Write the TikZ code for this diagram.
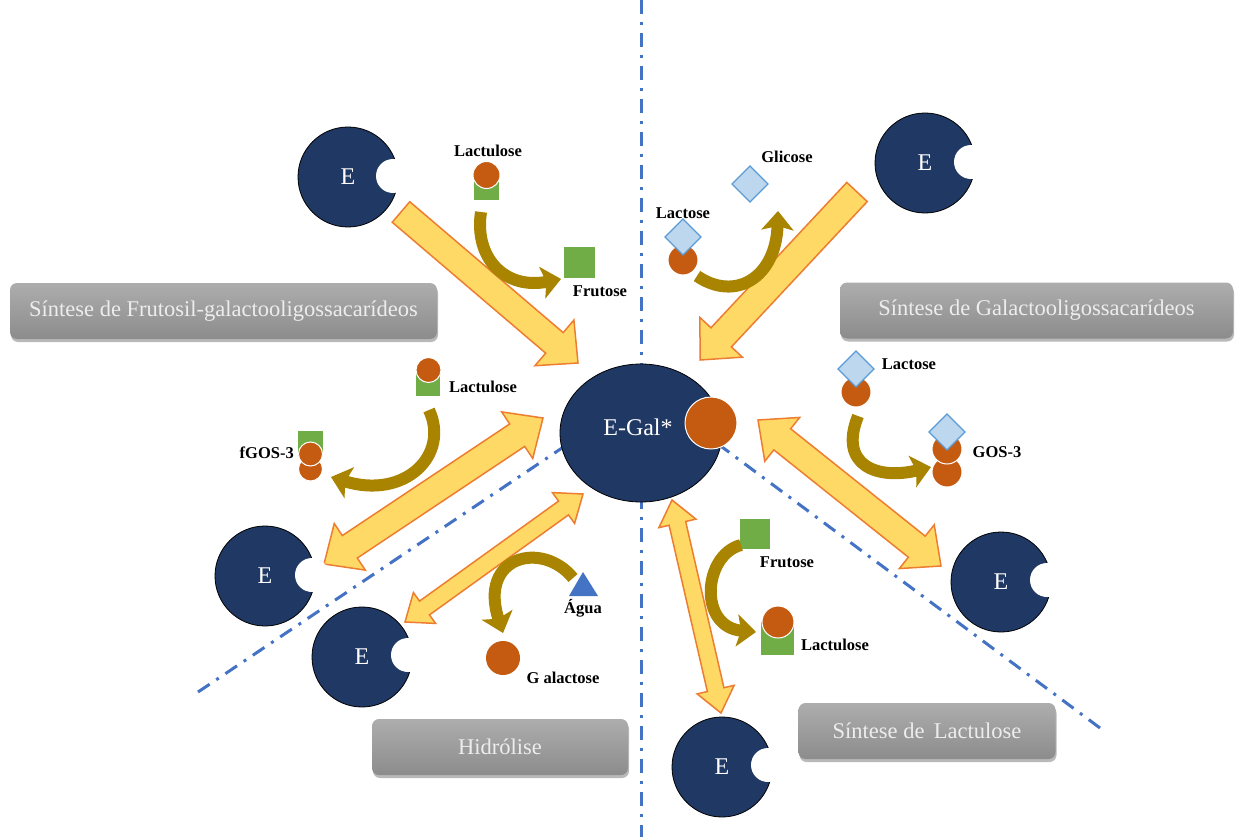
\documentclass[tikz,border=0pt]{standalone}
\usepackage{fontspec}
\setmainfont{Liberation Serif}
\usetikzlibrary{calc,arrows.meta,shadows}

\definecolor{navy}{HTML}{1F3864}
\definecolor{ylw}{HTML}{FFD966}
\definecolor{orng}{HTML}{ED7D31}
\definecolor{rust}{HTML}{C55A11}
\definecolor{grn}{HTML}{70AD47}
\definecolor{ltblue}{HTML}{BDD7EE}
\definecolor{midblue}{HTML}{5B9BD5}
\definecolor{lineblue}{HTML}{4472C4}
\definecolor{gold}{HTML}{A88400}
\definecolor{boxtop}{HTML}{ADADAD}
\definecolor{boxbot}{HTML}{8C8C8C}
\definecolor{boxtext}{HTML}{EDEDED}

\tikzset{
  enz/.style={circle, fill=navy, draw=black, line width=0.8pt, minimum size=100pt, inner sep=0pt,
    text=white, font=\fontsize{24}{26}\selectfont},
  notch/.style={circle, fill=white, minimum size=34pt, inner sep=0pt},
  yarrow/.style={fill=ylw, draw=orng, line width=1.5pt, line join=miter},
  carrow/.style={draw=gold, line width=12pt, -{Stealth[length=19pt,width=32pt,inset=4pt]}},
  sep/.style={draw=lineblue, line width=3pt, dash pattern=on 14pt off 8pt on 3pt off 8pt},
  gbox/.style={rounded corners=7pt, top color=boxtop, bottom color=boxbot, draw=none,
    drop shadow={shadow xshift=1pt, shadow yshift=-3pt, fill=black!50, opacity=0.55},
    text=boxtext, font=\fontsize{22.5}{25}\selectfont, inner sep=0pt},
  lbl/.style={font=\fontsize{16.5}{18}\selectfont\bfseries, inner sep=1pt},
  orb/.style={circle, fill=rust, draw=white, line width=1pt, inner sep=0pt},
  sq/.style={rectangle, fill=grn, inner sep=0pt},
  dia/.style={fill=ltblue, draw=midblue, line width=1.2pt},
}

\newcommand{\sarrow}[5]{% tail, tip, half shaft, half head, head length
  \coordinate (hh) at ($(#2)!#5!(#1)$);
  \path[yarrow] ($(#1)!#3!90:(#2)$) -- ($(hh)!#3!-90:(#1)$) -- ($(hh)!#4!-90:(#1)$) -- (#2)
    -- ($(hh)!#4!90:(#1)$) -- ($(hh)!#3!90:(#1)$) -- ($(#1)!#3!-90:(#2)$) -- cycle;
}
\newcommand{\darrow}[5]{% tip A, tip B, half shaft, half head, head length
  \coordinate (ha) at ($(#1)!#5!(#2)$);
  \coordinate (hb) at ($(#2)!#5!(#1)$);
  \path[yarrow] (#1) -- ($(ha)!#4!-90:(#2)$) -- ($(ha)!#3!-90:(#2)$) -- ($(hb)!#3!90:(#1)$)
    -- ($(hb)!#4!90:(#1)$) -- (#2) -- ($(hb)!#4!-90:(#1)$) -- ($(hb)!#3!-90:(#1)$)
    -- ($(ha)!#3!90:(#2)$) -- ($(ha)!#4!90:(#2)$) -- cycle;
}
\newcommand{\diam}[3]{% name, centre, half diagonal
  \path[dia] ($(#2)+(0,-#3)$) -- ($(#2)+(#3,0)$) -- ($(#2)+(0,#3)$) -- ($(#2)+(-#3,0)$) -- cycle;
  \coordinate (#1) at (#2);
}

\begin{document}
\begin{tikzpicture}[x=1pt, y=-1pt]
\useasboundingbox (0,0) rectangle (1238,837);
\fill[white] (0,0) rectangle (1238,837);

% separator lines
\coordinate (vtop) at (641,0);
\coordinate (vbot) at (641,837);
\coordinate (dl1) at (198,692);
\coordinate (dl2) at (562,448);
\coordinate (dr1) at (718,444);
\coordinate (dr2) at (1100,728);
\draw[sep] (vtop) -- (vbot);
\draw[sep] (dl1) -- (dl2);
\draw[sep] (dr1) -- (dr2);

% category boxes
\node[gbox, minimum width=427pt, minimum height=56pt] (bfgos) at (223.5,311) {Síntese de Frutosil-galactooligossacarídeos};
\node[gbox, minimum width=393pt, minimum height=56pt] (bgos) at (1036.5,310.5) {Síntese de Galactooligossacarídeos};
\node[gbox, minimum width=256pt, minimum height=56pt] (bhid) at (500,747) {Hidrólise};
\node[gbox, minimum width=257pt, minimum height=56pt] (blac) at (927,731) {Síntese de\, Lactulose};

% big arrows
\coordinate (a1t) at (401,212);  \coordinate (a1h) at (578,363);
\coordinate (a2t) at (857,192);  \coordinate (a2h) at (700,360);
\coordinate (a3a) at (324,564);  \coordinate (a3b) at (543,418);
\coordinate (a4a) at (405,622);  \coordinate (a4b) at (583,494);
\coordinate (a5a) at (758,420);  \coordinate (a5b) at (941,566);
\coordinate (a6a) at (672,500);  \coordinate (a6b) at (721,713);
\sarrow{a1t}{a1h}{13.5pt}{30pt}{31pt}
\sarrow{a2t}{a2h}{14pt}{29pt}{31pt}
\darrow{a3a}{a3b}{13.5pt}{28pt}{31pt}
\darrow{a4a}{a4b}{8.5pt}{19pt}{24pt}
\darrow{a5a}{a5b}{13.5pt}{28pt}{31pt}
\darrow{a6a}{a6b}{8.5pt}{19pt}{24pt}

% enzymes
\node[enz] (e1) at (348,177) {E};
\node[notch] (e1n) at (393,176) {};
\node[enz] (e2) at (925,163) {E};
\node[notch] (e2n) at (971,162) {};
\node[enz] (e3) at (265,576) {E};
\node[notch] (e3n) at (312,575) {};
\node[enz] (e4) at (362,657) {E};
\node[notch] (e4n) at (408,655) {};
\node[enz] (e5) at (1001,582) {E};
\node[notch] (e5n) at (1047,580) {};
\node[enz] (e6) at (722,767) {E};
\node[notch] (e6n) at (768,765) {};

% central complex
\path[fill=navy, draw=black, line width=0.8pt] (641,433) ellipse [x radius=81, y radius=69];
\node[text=white, font=\fontsize{24}{26}\selectfont, inner sep=0pt] (egal) at (638,427) {E-Gal*};
\node[orb, minimum size=52pt] (gal) at (711,423) {};

% ---- top left: lactulose -> frutose
\node[sq, minimum size=25pt] (lu1s) at (486,187.5) {};
\node[orb, minimum size=27pt] (lu1c) at (486.5,175) {};
\node[lbl] (lu1l) at (488,151) {Lactulose};
\node[sq, minimum size=31pt] (fr1) at (579,262) {};
\node[lbl] (fr1l) at (600,291) {Frutose};
\coordinate (c1s) at (481,212); \coordinate (c1e) at (561,279);
\draw[carrow] (c1s) .. controls (474,258) and (505,290) .. (c1e);

% ---- top right: lactose -> glicose
\node[orb, minimum size=30pt] (la1c) at (683,260) {};
\diam{la1d}{683,237}{18}
\node[lbl] (la1l) at (683,213) {Lactose};
\diam{gl1}{750,184}{18}
\node[lbl] (gl1l) at (787,157) {Glicose};
\coordinate (c2s) at (697,276); \coordinate (c2e) at (778,211);
\draw[carrow] (c2s) .. controls (735,302) and (776,278) .. (c2e);

% ---- left middle: lactulose -> fGOS-3
\node[sq, minimum size=24pt] (lu2s) at (428,384) {};
\node[orb, minimum size=25pt] (lu2c) at (428.5,370) {};
\node[lbl] (lu2l) at (483,387) {Lactulose};
\node[sq, minimum size=25pt] (fg1s) at (310.5,443) {};
\node[orb, minimum size=24pt] (fg1c2) at (310.5,469) {};
\node[orb, minimum size=24pt] (fg1c1) at (310.5,454) {};
\node[lbl, anchor=east] (fg1l) at (295,453) {fGOS-3};
\coordinate (c3s) at (429,410); \coordinate (c3e) at (331,477);
\draw[carrow] (c3s) .. controls (450,455) and (405,500) .. (c3e);

% ---- hydrolysis: agua -> galactose
\path[fill=lineblue] (583,572) -- (598,596) -- (569,596) -- cycle;
\coordinate (agua) at (584,588);
\node[lbl] (agual) at (583,608) {Água};
\node[orb, minimum size=34pt, draw=none] (gal1) at (503,658) {};
\node[lbl] (gal1l) at (563,678) {G alactose};
\coordinate (c5s) at (573,578); \coordinate (c5e) at (503,633);
\draw[carrow] (c5s) .. controls (542,540) and (478,556) .. (c5e);

% ---- right: lactose -> GOS-3
\node[orb, minimum size=30pt] (la2c) at (856,392) {};
\diam{la2d}{856,369}{18}
\node[lbl] (la2l) at (909,364) {Lactose};
\node[orb, minimum size=30pt] (go1c2) at (947,472) {};
\node[orb, minimum size=30pt] (go1c1) at (947,449) {};
\diam{go1d}{947,432}{18}
\node[lbl] (go1l) at (997,452) {GOS-3};
\coordinate (c4s) at (858,416); \coordinate (c4e) at (931,467);
\draw[carrow] (c4s) .. controls (838,466) and (878,480) .. (c4e);

% ---- lactulose synthesis: frutose -> lactulose
\node[sq, minimum size=30pt] (fr2) at (755,534) {};
\node[lbl] (fr2l) at (787,562) {Frutose};
\node[sq, minimum width=33pt, minimum height=33pt] (lu3s) at (777,638) {};
\node[orb, minimum size=32pt] (lu3c) at (778,622) {};
\node[lbl] (lu3l) at (835,645) {Lactulose};
\coordinate (c6s) at (741,545); \coordinate (c6e) at (756,632);
\draw[carrow] (c6s) .. controls (703,555) and (698,627) .. (c6e);

\end{tikzpicture}
\end{document}
